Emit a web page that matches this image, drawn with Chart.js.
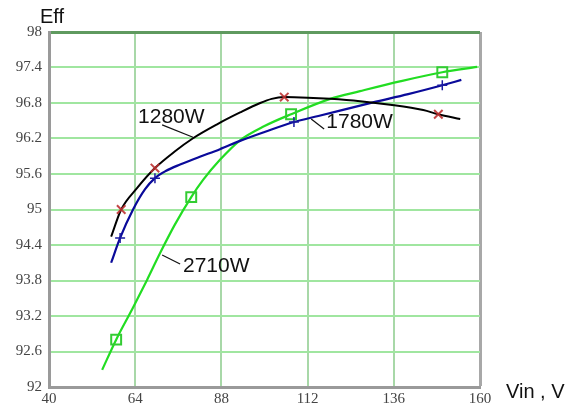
<!DOCTYPE html>
<html>
<head>
<meta charset="utf-8">
<script src="https://cdn.jsdelivr.net/npm/chart.js@4/dist/chart.umd.min.js"></script>
<style>
  html, body { margin: 0; padding: 0; background: #fff; }
  #wrap { width: 575px; height: 408px; }
</style>
</head>
<body>
<div id="wrap"><canvas id="myChart" width="575" height="408"></canvas></div>
<script>
// tick labels
var xTicks = [40, 64, 88, 112, 136, 160];
var yTicks = [92, 92.6, 93.2, 93.8, 94.4, 95, 95.6, 96.2, 96.8, 97.4, 98];

// 1280W curve (black) and its markers
var vin1280 = [57.3, 60.1, 64.5, 69.5, 75, 80, 86.8, 93.2, 98.8, 102, 105.5, 112, 118.3, 126.6, 135, 144.2, 148.4, 154.5];
var eff1280 = [94.54, 95.0, 95.36, 95.70, 95.98, 96.20, 96.44, 96.64, 96.80, 96.87, 96.90, 96.89, 96.87, 96.83, 96.77, 96.68, 96.61, 96.53];
var mkVin1280 = [60.1, 69.5, 105.5, 148.4];
var mkEff1280 = [95.0, 95.70, 96.90, 96.61];

// 1780W curve (blue)
var vin1780 = [57.3, 59.8, 63.4, 66.7, 69.5, 72.5, 76.5, 82, 87.6, 93.2, 100, 108.2, 115, 121, 130.2, 140, 149.5, 154.8];
var eff1780 = [94.10, 94.52, 95.0, 95.34, 95.53, 95.65, 95.76, 95.89, 96.02, 96.16, 96.31, 96.48, 96.58, 96.67, 96.81, 96.95, 97.10, 97.19];
var mkVin1780 = [59.8, 69.5, 108.2, 149.5];
var mkEff1780 = [94.52, 95.53, 96.48, 97.10];

// 2710W curve (green)
var vin2710 = [54.8, 58.7, 63.3, 67.3, 70.9, 75, 79.6, 82.9, 87.6, 93.2, 100, 107.4, 118.3, 126.6, 138, 149.5, 159.2];
var eff2710 = [92.29, 92.80, 93.33, 93.81, 94.26, 94.74, 95.21, 95.5, 95.84, 96.17, 96.41, 96.61, 96.87, 97.0, 97.17, 97.32, 97.41];
var mkVin2710 = [58.7, 79.6, 107.4, 149.5];
var mkEff2710 = [92.80, 95.21, 96.61, 97.32];

// curve labels: text anchor and leader line, in data units
var curveLabels = [
  { text: '1280W', x: 64.8, y: 96.46, from: [71.5, 96.43], to: [80.1, 96.22] },
  { text: '1780W', x: 117.2, y: 96.38, from: [113.0, 96.53], to: [116.6, 96.36] },
  { text: '2710W', x: 77.3, y: 93.94, from: [71.5, 94.23], to: [76.5, 94.08] }
];

function pts(xs, ys) {
  return xs.map(function (v, i) { return { x: v, y: ys[i] }; });
}

function curve(xs, ys, color, w) {
  return {
    data: pts(xs, ys),
    borderColor: color,
    borderWidth: w,
    pointRadius: 0,
    cubicInterpolationMode: 'monotone',
    fill: false
  };
}

function markers(xs, ys, style, color, r, w) {
  return {
    data: pts(xs, ys),
    showLine: false,
    pointStyle: style,
    pointRadius: r,
    pointBorderColor: color,
    pointBackgroundColor: 'rgba(255,255,255,0)',
    pointBorderWidth: w
  };
}

var labelsPlugin = {
  id: 'labelsPlugin',
  afterDatasetsDraw: function (chart) {
    var c = chart.ctx;
    var xs = chart.scales.x, ys = chart.scales.y;
    c.save();
    c.fillStyle = '#111';
    c.strokeStyle = '#111';
    c.lineWidth = 1.2;
    c.font = '21px "Liberation Sans", Arial, sans-serif';
    c.textBaseline = 'alphabetic';
    c.textAlign = 'left';
    curveLabels.forEach(function (l) {
      c.beginPath();
      c.moveTo(xs.getPixelForValue(l.from[0]), ys.getPixelForValue(l.from[1]));
      c.lineTo(xs.getPixelForValue(l.to[0]), ys.getPixelForValue(l.to[1]));
      c.stroke();
      c.fillText(l.text, xs.getPixelForValue(l.x), ys.getPixelForValue(l.y));
    });
    // axis titles
    var a = chart.chartArea;
    c.font = '20px "Liberation Sans", Arial, sans-serif';
    c.fillText('Eff', a.left - 9, a.top - 9);
    c.fillText('Vin , V', a.right + 26, a.bottom + 11);
    c.restore();
  }
};

var ctx = document.getElementById('myChart').getContext('2d');

var myChart = new Chart(ctx, {
  type: 'line',
  data: {
    datasets: [
      markers(mkVin1280, mkEff1280, 'crossRot', 'rgba(190,50,50,0.9)', 6, 2),
      markers(mkVin1780, mkEff1780, 'cross', '#1a1aa0', 5, 1.5),
      markers(mkVin2710, mkEff2710, 'rect', '#33cc33', 7, 2),
      curve(vin1280, eff1280, '#000000', 2),
      curve(vin1780, eff1780, '#0a0a9a', 2.2),
      curve(vin2710, eff2710, '#22dd22', 2.2)
    ]
  },
  options: {
    responsive: false,
    animation: false,
    events: [],
    layout: { padding: { left: 0, top: 32, right: 95, bottom: 0 } },
    plugins: {
      legend: { display: false },
      tooltip: { enabled: false }
    },
    scales: {
      x: {
        type: 'linear',
        min: 40,
        max: 160,
        afterBuildTicks: function (s) { s.ticks = xTicks.map(function (v) { return { value: v }; }); },
        afterFit: function (s) { s.height = 21; },
        ticks: {
          padding: 3,
          color: '#444',
          font: { family: '"Liberation Serif", "Times New Roman", serif', size: 15 },
          callback: function (v) { return String(v); }
        },
        grid: {
          drawTicks: false,
          lineWidth: function (c) { return c.tick && c.tick.value === 160 ? 3 : 2; },
          color: function (c) { return c.tick && c.tick.value === 160 ? '#a8a8a8' : '#a8d8a8'; }
        },
        border: { color: '#9a9a9a', width: 3 }
      },
      y: {
        min: 92,
        max: 98,
        afterBuildTicks: function (s) { s.ticks = yTicks.map(function (v) { return { value: v }; }); },
        afterFit: function (s) { s.width = 49; },
        ticks: {
          padding: 7,
          color: '#444',
          font: { family: '"Liberation Serif", "Times New Roman", serif', size: 15 },
          callback: function (v) { return String(v); }
        },
        grid: {
          drawTicks: false,
          lineWidth: function (c) { return c.tick && c.tick.value === 98 ? 3 : 2; },
          color: function (c) { return c.tick && c.tick.value === 98 ? '#5f9a5f' : '#a0e6a0'; }
        },
        border: { color: '#9a9a9a', width: 3 }
      }
    }
  },
  plugins: [labelsPlugin]
});
</script>
</body>
</html>
